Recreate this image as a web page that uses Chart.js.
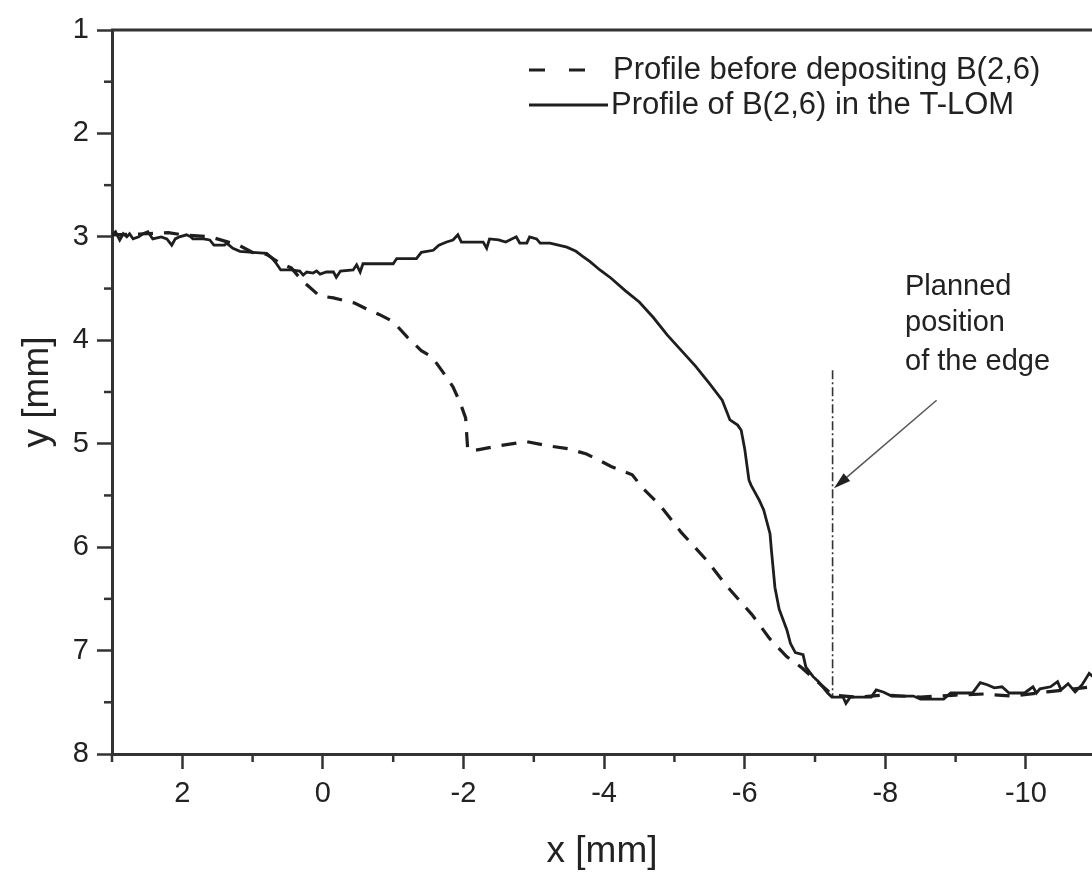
<!DOCTYPE html>
<html>
<head>
<meta charset="utf-8">
<script src="https://cdn.jsdelivr.net/npm/chart.js@4.4.1/dist/chart.umd.min.js"></script>
<style>
  body { margin: 0; background: #fff; overflow: hidden; }
  #chart { display: block; }
</style>
</head>
<body>
<canvas id="chart" width="1092" height="878"></canvas>
<script>
// profile of B(2,6) in the T-LOM (solid)
const solidX = [3.00, 2.95, 2.89, 2.84, 2.79, 2.75, 2.70, 2.62, 2.56, 2.49, 2.42, 2.30, 2.22, 2.15, 2.10, 2.04, 1.94, 1.88, 1.85, 1.70,
    1.61, 1.55, 1.40, 1.37, 1.28, 1.18, 1.00, 0.80, 0.73, 0.66, 0.60, 0.45, 0.33, 0.28, 0.23, 0.14, 0.09, 0.04, -0.05, -0.15,
    -0.19, -0.25, -0.43, -0.48, -0.53, -0.57, -1.00, -1.05, -1.33, -1.40, -1.57, -1.65, -1.76, -1.85, -1.92, -1.97, -2.10, -2.28, -2.33, -2.37,
    -2.50, -2.60, -2.75, -2.80, -2.90, -2.94, -3.04, -3.09, -3.23, -3.35, -3.47, -3.60, -3.70, -3.80, -3.94, -4.10, -4.30, -4.50, -4.70, -4.90,
    -5.10, -5.30, -5.50, -5.68, -5.79, -5.90, -5.95, -6.00, -6.06, -6.09, -6.21, -6.27, -6.36, -6.38, -6.43, -6.49, -6.60, -6.65, -6.72, -6.83,
    -6.87, -6.97, -7.05, -7.18, -7.24, -7.40, -7.44, -7.50, -7.80, -7.87, -7.97, -8.09, -8.40, -8.50, -8.83, -8.93, -9.24, -9.35, -9.45, -9.55,
    -9.66, -9.76, -9.98, -10.10, -10.15, -10.20, -10.35, -10.45, -10.50, -10.60, -10.70, -10.80, -10.90, -10.95];
const solidY = [2.98, 2.95, 3.03, 2.97, 3.00, 2.97, 3.02, 3.00, 2.97, 2.95, 3.02, 3.00, 3.02, 3.08, 3.02, 3.00, 2.98, 3.00, 3.02, 3.02,
    3.03, 3.08, 3.08, 3.06, 3.11, 3.14, 3.15, 3.16, 3.20, 3.26, 3.32, 3.32, 3.33, 3.37, 3.34, 3.35, 3.33, 3.36, 3.34, 3.34,
    3.39, 3.33, 3.32, 3.27, 3.34, 3.26, 3.26, 3.21, 3.21, 3.15, 3.13, 3.08, 3.05, 3.03, 2.98, 3.05, 3.05, 3.05, 3.11, 3.02,
    3.03, 3.05, 3.00, 3.06, 3.06, 3.00, 3.02, 3.06, 3.06, 3.08, 3.10, 3.14, 3.19, 3.24, 3.32, 3.40, 3.52, 3.63, 3.78, 3.95,
    4.10, 4.25, 4.42, 4.58, 4.77, 4.82, 4.87, 5.05, 5.35, 5.40, 5.55, 5.64, 5.87, 6.03, 6.39, 6.60, 6.80, 6.93, 7.02, 7.04,
    7.16, 7.25, 7.30, 7.41, 7.45, 7.45, 7.51, 7.45, 7.45, 7.38, 7.40, 7.44, 7.44, 7.47, 7.47, 7.41, 7.41, 7.31, 7.33, 7.36,
    7.35, 7.41, 7.41, 7.35, 7.41, 7.37, 7.35, 7.30, 7.38, 7.32, 7.40, 7.33, 7.22, 7.25];

// profile before depositing B(2,6) (dashed)
const dashedX = [3.00, 2.50, 2.20, 2.00, 1.60, 1.20, 1.00, 0.80, 0.60, 0.45, 0.30, 0.20, 0.05, -0.15, -0.45, -0.60, -0.80, -1.00, -1.20, -1.40,
    -1.55, -1.70, -1.85, -1.95, -2.03, -2.06, -2.20, -2.50, -2.90, -3.20, -3.50, -3.75, -3.90, -4.10, -4.40, -4.55, -4.80, -5.10, -5.45, -5.75,
    -6.10, -6.35, -6.60, -6.80, -7.00, -7.25, -7.60, -8.00, -8.50, -9.00, -9.40, -9.80, -10.30, -10.95];
const dashedY = [2.98, 2.97, 2.96, 2.98, 3.00, 3.08, 3.15, 3.17, 3.26, 3.30, 3.42, 3.48, 3.57, 3.59, 3.64, 3.69, 3.75, 3.82, 3.97, 4.10,
    4.16, 4.30, 4.45, 4.60, 4.75, 5.06, 5.06, 5.02, 4.98, 5.02, 5.05, 5.10, 5.15, 5.22, 5.30, 5.43, 5.60, 5.86, 6.12, 6.38,
    6.65, 6.88, 7.06, 7.16, 7.28, 7.43, 7.45, 7.43, 7.45, 7.43, 7.42, 7.44, 7.40, 7.35];

const seriesLabels = ['Profile before depositing B(2,6)', 'Profile of B(2,6) in the T-LOM'];

// planned edge marker and its note
const edgeX = -7.25;
const edgeY = [4.29, 7.45];
const arrowFrom = [-8.73, 4.58];
const arrowTo = [-7.27, 5.43];
const noteLines = ['Planned', 'position', 'of the edge'];
const noteX = -8.28;
const noteY = [3.48, 3.83, 4.21];

const xRange = [-10.94, 3];
const yRange = [1, 8];
const xMinorTicks = [3, 1, -1, -3, -5, -7, -9];
const yMinorTicks = [1.5, 2.5, 3.5, 4.5, 5.5, 6.5, 7.5];

const FONT = "'Liberation Sans', Arial, sans-serif";
const INK = '#1e1e1e';
const AXIS = '#333';

const toPoints = (xs, ys) => xs.map((x, i) => ({ x, y: ys[i] }));

const framePlugin = {
    id: 'frame',
    afterDraw(chart) {
        const { ctx, chartArea, scales } = chart;
        const xs = scales.x, ys = scales.y;
        ctx.save();
        ctx.strokeStyle = AXIS;

        // top border
        ctx.lineWidth = 3;
        ctx.beginPath();
        ctx.moveTo(chartArea.left - 1, chartArea.top);
        ctx.lineTo(chartArea.right, chartArea.top);
        ctx.stroke();

        // minor ticks
        ctx.lineWidth = 2.5;
        xMinorTicks.forEach(v => {
            const px = xs.getPixelForValue(v);
            ctx.beginPath();
            ctx.moveTo(px, chartArea.bottom);
            ctx.lineTo(px, chartArea.bottom + 8);
            ctx.stroke();
        });
        yMinorTicks.forEach(v => {
            const py = ys.getPixelForValue(v);
            ctx.beginPath();
            ctx.moveTo(chartArea.left, py);
            ctx.lineTo(chartArea.left - 8, py);
            ctx.stroke();
        });

        // arrow to the edge line
        const ax0 = xs.getPixelForValue(arrowFrom[0]), ay0 = ys.getPixelForValue(arrowFrom[1]);
        const ax1 = xs.getPixelForValue(arrowTo[0]), ay1 = ys.getPixelForValue(arrowTo[1]);
        const ang = Math.atan2(ay1 - ay0, ax1 - ax0);
        ctx.strokeStyle = '#555';
        ctx.fillStyle = '#222';
        ctx.lineWidth = 1.5;
        ctx.beginPath();
        ctx.moveTo(ax0, ay0);
        ctx.lineTo(ax1 - 12 * Math.cos(ang), ay1 - 12 * Math.sin(ang));
        ctx.stroke();
        ctx.beginPath();
        ctx.moveTo(ax1, ay1);
        ctx.lineTo(ax1 - 17 * Math.cos(ang) + 5 * Math.sin(ang), ay1 - 17 * Math.sin(ang) - 5 * Math.cos(ang));
        ctx.lineTo(ax1 - 17 * Math.cos(ang) - 5 * Math.sin(ang), ay1 - 17 * Math.sin(ang) + 5 * Math.cos(ang));
        ctx.closePath();
        ctx.fill();

        // note text
        ctx.fillStyle = '#222';
        ctx.font = `29px ${FONT}`;
        ctx.textAlign = 'left';
        ctx.textBaseline = 'middle';
        noteLines.forEach((t, i) => {
            ctx.fillText(t, xs.getPixelForValue(noteX), ys.getPixelForValue(noteY[i]));
        });

        // legend
        const ds = chart.data.datasets;
        const rows = [{ y: 70, x0: 529, x1: 586, tx: 613, d: ds[0] }, { y: 105, x0: 529, x1: 608, tx: 611, d: ds[1] }];
        ctx.font = `31px ${FONT}`;
        rows.forEach(r => {
            ctx.strokeStyle = INK;
            ctx.lineWidth = r.d.borderWidth;
            ctx.setLineDash(r.d.borderDash && r.d.borderDash.length ? [16, 24] : []);
            ctx.beginPath();
            ctx.moveTo(r.x0, r.y);
            ctx.lineTo(r.x1, r.y);
            ctx.stroke();
            ctx.setLineDash([]);
            ctx.fillText(r.d.label, r.tx, r.y);
        });
        ctx.restore();
    }
};

new Chart(document.getElementById('chart'), {
    type: 'scatter',
    data: {
        datasets: [
            {
                label: seriesLabels[0],
                data: toPoints(dashedX, dashedY),
                showLine: true,
                borderColor: INK,
                borderWidth: 3.2,
                borderDash: [15, 11],
                pointRadius: 0
            },
            {
                label: seriesLabels[1],
                data: toPoints(solidX, solidY),
                showLine: true,
                borderColor: INK,
                borderWidth: 2.8,
                pointRadius: 0
            },
            {
                label: 'edge',
                data: [{ x: edgeX, y: edgeY[0] }, { x: edgeX, y: edgeY[1] }],
                showLine: true,
                borderColor: '#333',
                borderWidth: 1.6,
                borderDash: [9, 3, 2, 3],
                pointRadius: 0
            }
        ]
    },
    options: {
        responsive: false,
        animation: false,
        layout: { padding: { top: 30, right: 0, left: 0, bottom: 0 } },
        plugins: { legend: { display: false }, tooltip: { enabled: false } },
        scales: {
            x: {
                type: 'linear',
                reverse: true,
                min: xRange[0],
                max: xRange[1],
                afterFit: s => { s.height = 124; },
                ticks: {
                    stepSize: 2,
                    includeBounds: false,
                    color: '#222',
                    font: { family: FONT, size: 29 },
                    padding: 8,
                    maxRotation: 0
                },
                grid: { drawOnChartArea: false, tickLength: 15, tickWidth: 2.5, tickColor: AXIS },
                border: { color: AXIS, width: 3 },
                title: { display: true, text: 'x [mm]', color: '#222', font: { family: FONT, size: 37 }, padding: { top: 0, bottom: 4 } }
            },
            y: {
                type: 'linear',
                reverse: true,
                min: yRange[0],
                max: yRange[1],
                afterFit: s => { s.width = 112; },
                ticks: {
                    stepSize: 1,
                    color: '#222',
                    font: { family: FONT, size: 29 },
                    padding: 8
                },
                grid: { drawOnChartArea: false, tickLength: 15, tickWidth: 2.5, tickColor: AXIS },
                border: { color: AXIS, width: 3 },
                title: { display: true, text: 'y [mm]', color: '#222', font: { family: FONT, size: 37 }, padding: { top: 16, bottom: 0 } }
            }
        }
    },
    plugins: [framePlugin]
});
</script>
</body>
</html>
